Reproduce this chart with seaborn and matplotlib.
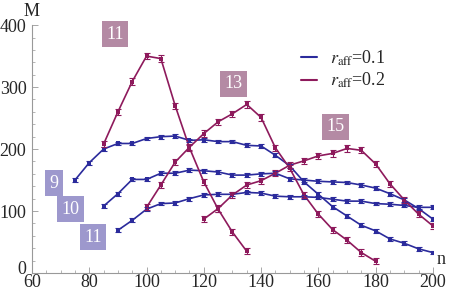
import seaborn as sns
import numpy as np
import pandas as pd
import matplotlib.pyplot as plt
import matplotlib.transforms as mtransforms
from matplotlib.lines import Line2D

# r_aff = 0.1 (blue) curves, labelled 9, 10, 11
n_b9 = list(range(75, 201, 5))
m_b9 = [150, 178, 200, 209, 209, 217, 220, 221, 214, 215, 212, 212, 206, 205, 190,
        173, 147, 127, 107, 92, 77, 68, 55, 48, 39, 33]
n_b10 = list(range(85, 201, 5))
m_b10 = [108, 128, 151, 151, 161, 161, 166, 165, 163, 158, 158, 160, 161,
         152, 150, 148, 147, 146, 142, 137, 128, 118, 104, 87]
n_b11 = list(range(90, 201, 5))
m_b11 = [69, 85, 103, 112, 113, 120, 126, 127, 127, 130, 129, 124,
         123, 123, 122, 119, 116, 116, 112, 111, 109, 106, 106]

# r_aff = 0.2 (red) curves, labelled 11, 13, 15
n_r11 = list(range(85, 136, 5))
m_r11 = [208, 260, 309, 350, 346, 270, 202, 147, 103, 66, 35]
n_r13 = list(range(100, 181, 5))
m_r13 = [106, 142, 179, 203, 225, 244, 257, 272, 251, 202, 169, 126, 95, 70, 53, 33, 19]
n_r15 = list(range(120, 201, 5))
m_r15 = [87, 104, 126, 142, 149, 161, 174, 181, 189, 193, 201, 198, 176, 144, 118, 95, 76]

err_blue = 3
err_red = 5

curves = [("0.1", "9", n_b9, m_b9), ("0.1", "10", n_b10, m_b10), ("0.1", "11", n_b11, m_b11),
          ("0.2", "11", n_r11, m_r11), ("0.2", "13", n_r13, m_r13), ("0.2", "15", n_r15, m_r15)]

rows = []
for r, k, ns, ms in curves:
    for n, m in zip(ns, ms):
        rows.append({"r": r, "k": r + "_" + k, "n": n, "M": m})
df = pd.DataFrame(rows)

blue = "#2b2b9c"
red = "#8e1a5c"
colors = {"0.1": blue, "0.2": red}

sns.set_style("ticks")
plt.rcParams["font.family"] = ["Liberation Serif", "DejaVu Serif"]
plt.rcParams["mathtext.fontset"] = "stix"

fig = plt.figure(figsize=(4.54, 2.92), dpi=100)
ax = fig.add_axes([0.0705, 0.065, 0.883, 0.849])

sns.lineplot(data=df, x="n", y="M", hue="r", units="k", estimator=None,
             palette=colors, linewidth=1.2, marker="s", markersize=2.5,
             markeredgewidth=0, ax=ax, legend=False)

for r, k, ns, ms in curves:
    ax.errorbar(ns, ms, yerr=err_blue if r == "0.1" else err_red, fmt="none",
                ecolor=colors[r], elinewidth=0.8, capsize=2, capthick=0.8)

# curve labels
red_box = "#b48aa4"
blue_box = "#9d98cd"
labels = [("11", 89, 385, red_box), ("13", 130.5, 305, red_box), ("15", 166, 236, red_box),
          ("9", 67.7, 145, blue_box), ("10", 73.3, 103, blue_box), ("11", 81.3, 58, blue_box)]
for txt, x, y, c in labels:
    ax.text(x, y, txt, color="white", fontsize=13, ha="center", va="center",
            bbox=dict(boxstyle="square,pad=0.25", fc=c, ec="none"))

handles = [Line2D([], [], color=blue, lw=1.5), Line2D([], [], color=red, lw=1.5)]
ax.legend(handles, [r"$r_{\rm aff}$=0.1", r"$r_{\rm aff}$=0.2"], frameon=False,
          loc="upper left", bbox_to_anchor=(0.63, 0.97), fontsize=13,
          handlelength=0.9, handletextpad=0.7, labelspacing=0.15)

ax.set_xlim(60, 200)
ax.set_ylim(0, 400)
ax.set_xticks(range(60, 201, 20))
ax.set_xticks(range(60, 201, 5), minor=True)
ax.set_yticks(range(0, 401, 100))
ax.set_yticks(range(0, 401, 20), minor=True)
ax.tick_params(direction="in", length=4, width=0.6, color="#999999", labelsize=13)
ax.tick_params(axis="x", pad=1)
ax.tick_params(axis="y", pad=4)
ax.tick_params(which="minor", direction="in", length=2, width=0.5, color="#999999")
for s in ["left", "bottom"]:
    ax.spines[s].set_color("#999999")
    ax.spines[s].set_linewidth(0.8)
sns.despine(ax=ax)
ax.set_xlabel("")
ax.set_ylabel("")
ax.text(0, 1.02, "M", transform=ax.transAxes, fontsize=13, ha="center", va="bottom")
ax.text(1.01, 0.02, "n", transform=ax.transAxes, fontsize=13, ha="left", va="bottom")

# lift the "0" label a little so it clears the "60" below it
zero = ax.get_yticklabels()[0]
zero.set_transform(zero.get_transform() + mtransforms.ScaledTranslation(0, 4 / 72, fig.dpi_scale_trans))

fig.savefig("out.png", dpi=100)
